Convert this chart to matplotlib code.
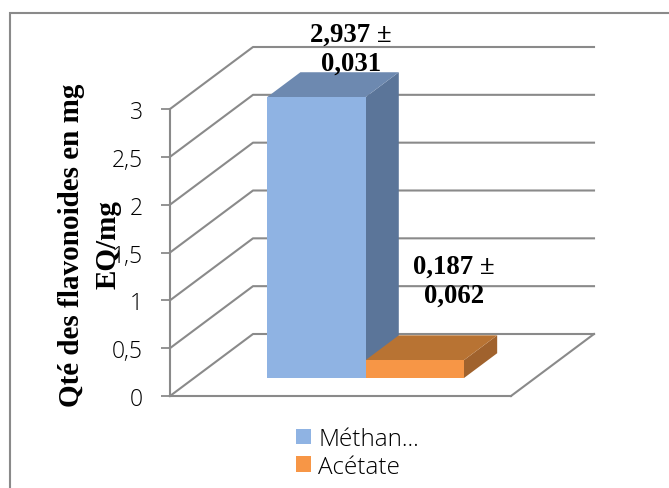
import matplotlib
matplotlib.use('Agg')
import matplotlib.pyplot as plt
from matplotlib.patches import Patch, Polygon, Rectangle

W, H = 669, 489
GREY = '#8a8a8a'

categories = ['Méthan...', 'Acétate']
values = [2.937, 0.187]
value_labels = ['2,937 ±\n0,031', '0,187 ±\n0,062']
front_colors = ['#8fb3e3', '#f79646']
side_colors = ['#5b7599', '#a0622d']
top_colors = ['#6d89b0', '#b87333']
y_ticks = [0, 0.5, 1, 1.5, 2, 2.5, 3]
y_tick_labels = ['0', '0,5', '1', '1,5', '2', '2,5', '3']
y_title_lines = ['Qté des flavonoides en mg', 'EQ/mg']

# front plane of the 3D box, in pixels
LEFT, RIGHT, BOTTOM, TOP = 170, 511, 397, 110
# how far the back wall is shifted, in data units
DEPTH_X = 83 / (RIGHT - LEFT)
DEPTH_Y = 62 / ((BOTTOM - TOP) / 3)
BAR_WIDTH = 0.2885
BAR_START = 0.2145
BAR_NEAR, BAR_FAR = 0.29, 0.69


def skew(x, y, depth):
    return x + DEPTH_X * depth, y + DEPTH_Y * depth


def draw_bar(ax, x0, value, i):
    x1 = x0 + BAR_WIDTH
    a = skew(x0, 0, BAR_NEAR)
    b = skew(x1, 0, BAR_NEAR)
    c = skew(x1, value, BAR_NEAR)
    d = skew(x0, value, BAR_NEAR)
    e = skew(x1, 0, BAR_FAR)
    f = skew(x1, value, BAR_FAR)
    g = skew(x0, value, BAR_FAR)
    ax.add_patch(Polygon([b, e, f, c], color=side_colors[i], lw=0, clip_on=False, zorder=3))
    ax.add_patch(Polygon([d, c, f, g], color=top_colors[i], lw=0, clip_on=False, zorder=3))
    ax.add_patch(Polygon([a, b, c, d], color=front_colors[i], lw=0, clip_on=False, zorder=4))
    return f


fig = plt.figure(figsize=(W / 100, H / 100), dpi=100)
fig.add_artist(Rectangle((10 / W, -0.01), 1.01 - 10 / W, 1.01 - 14 / H, fill=False,
                         edgecolor=GREY, lw=1.5, transform=fig.transFigure))

ax = fig.add_axes([LEFT / W, 1 - BOTTOM / H, (RIGHT - LEFT) / W, (BOTTOM - TOP) / H])
ax.set_xlim(0, 1)
ax.set_ylim(0, 3)
ax.patch.set_alpha(0)
for side in ['top', 'right']:
    ax.spines[side].set_visible(False)
for side in ['left', 'bottom']:
    ax.spines[side].set_color(GREY)
    ax.spines[side].set_linewidth(1.5)
ax.set_xticks([])
ax.set_yticks(y_ticks)
ax.set_yticklabels(y_tick_labels, fontsize=16.5, family='Open Sans', fontweight='light', color='black')
ax.tick_params(axis='y', length=6.5, width=1.3, color=GREY, pad=13)

# gridlines run from the axis up to the back wall, then across it
for t in y_ticks:
    bx, by = skew(0, t, 1)
    ax.plot([0, bx, 1 + DEPTH_X], [t, by, by], color=GREY, lw=1.5, clip_on=False, zorder=2)
# right edge of the floor
ax.plot([1, 1 + DEPTH_X], [0, DEPTH_Y], color=GREY, lw=1.5, clip_on=False, zorder=2)

for i, val in enumerate(values):
    draw_bar(ax, BAR_START + i * BAR_WIDTH, val, i)

label_px = [(351, 50), (454, 282)]
for lab, (px, py) in zip(value_labels, label_px):
    fig.text(px / W, 1 - py / H, lab, ha='center', va='center', fontsize=19.3,
             family='Liberation Serif', fontweight='bold', linespacing=1.2, color='black', zorder=6)

# the two title lines are placed one by one
for line, px in zip(y_title_lines, [72, 108]):
    fig.text(px / W, 1 - 245 / H, line, rotation=90, ha='center', va='center', fontsize=21,
             family='Liberation Serif', fontweight='bold')

handles = [Patch(color=c, lw=0) for c in front_colors]
ax.legend(handles, categories, loc='center left', bbox_to_anchor=(296 / W, 1 - 454 / H),
          bbox_transform=fig.transFigure, frameon=False, ncol=1,
          prop={'family': 'Open Sans', 'size': 17.5, 'weight': 'light'}, handlelength=0.62, handleheight=0.62,
          handletextpad=0.3, labelspacing=0.15, borderpad=0, borderaxespad=0, labelcolor='black')

fig.savefig('out.png', dpi=100)
